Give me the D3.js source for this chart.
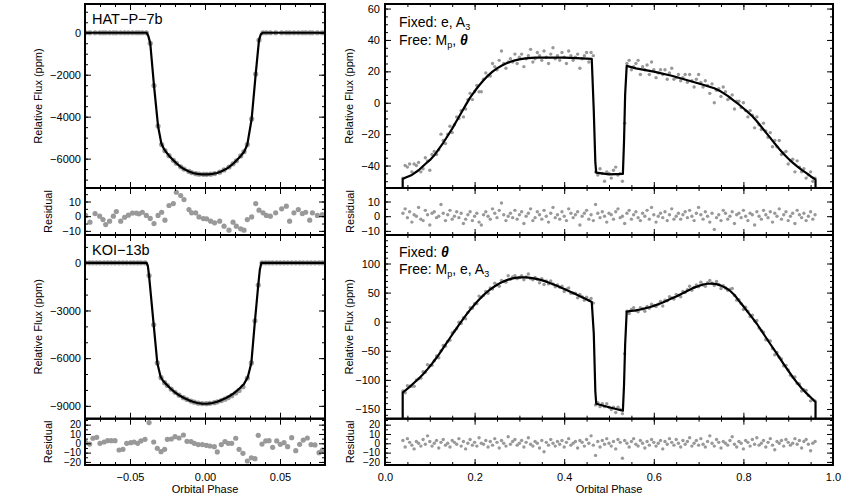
<!DOCTYPE html>
<html><head><meta charset="utf-8">
<script src="https://cdn.jsdelivr.net/npm/d3@7"></script>
<style>body{margin:0;background:#fff}</style>
</head><body><svg id="c" width="850" height="500"></svg>
<script>
// ---------------- DATA ----------------
// HAT-P-7b (left top)
const hatPhase = [-0.0796,-0.0767,-0.0733,-0.0702,-0.0680,-0.0662,-0.0636,-0.0611,-0.0591,-0.0562,
  -0.0536,-0.0511,-0.0484,-0.0458,-0.0440,-0.0418,-0.0391,-0.0365,-0.0340,-0.0313,
  -0.0289,-0.0267,-0.0240,-0.0211,-0.0191,-0.0162,-0.0140,-0.0107,-0.0089,-0.0062,
  -0.0040,-0.0011,0.0011,0.0038,0.0064,0.0098,0.0127,0.0160,0.0187,0.0209,
  0.0238,0.0260,0.0282,0.0311,0.0338,0.0360,0.0387,0.0409,0.0436,0.0471,
  0.0511,0.0542,0.0564,0.0593,0.0622,0.0649,0.0671,0.0698,0.0716,0.0749,0.0782];
const hatFlux = [0,0,0,0,0,0,0,0,0,0,
  0,0,0,0,0,0,0,-500,-2520,-4450,
  -5330,-5620,-5860,-6080,-6220,-6390,-6500,-6610,-6665,-6715,
  -6740,-6750,-6750,-6740,-6712,-6645,-6540,-6400,-6250,-6100,
  -5870,-5670,-5330,-4110,-1970,-350,0,0,0,0,
  0,0,0,0,0,0,0,0,0,0,0];
const hatResid = [0.5,-4.1,1.8,0,-2.3,-5.7,-3.4,0,3.2,-3.4,
  -0.7,0.7,2.1,2.1,1.6,2.7,0.5,-1.5,-5,0.5,
  2.7,-2.7,7.3,8.6,16.3,14.1,11.3,4.5,2.3,2.3,
  -0.5,-1.6,-1.8,-3.4,-4.5,-3.4,-6.8,-9.5,-4.1,-6.8,
  -8.6,-9.5,-2.3,-0.5,8.6,4.1,2.3,0.5,0,2.3,
  5,6.8,-3.4,2.3,4.5,1.8,2.7,-2.7,2.3,0.5,1.1];
const hatModelPhase = [-0.08,-0.0389,-0.0378,-0.0365,-0.0340,-0.0313,-0.0291,-0.0275,-0.0262,-0.0240,
  -0.0211,-0.0191,-0.0162,-0.0140,-0.0107,-0.0080,-0.0050,-0.0020,0,0.0020,
  0.0050,0.0080,0.0107,0.0140,0.0162,0.0191,0.0211,0.0240,0.0262,0.0282,
  0.0311,0.0338,0.0360,0.0372,0.0384,0.08];
const hatModelFlux = [0,0,-150,-500,-2520,-4450,-5280,-5520,-5660,-5860,
  -6080,-6220,-6390,-6500,-6610,-6685,-6730,-6748,-6752,-6748,
  -6730,-6685,-6610,-6500,-6390,-6220,-6080,-5860,-5660,-5330,
  -4110,-1970,-350,-80,0,0];

// KOI-13b (left bottom)
const koiPhase = [-0.0796,-0.0769,-0.0747,-0.0722,-0.0700,-0.0673,-0.0649,-0.0625,-0.0600,-0.0573,
  -0.0547,-0.0522,-0.0495,-0.0473,-0.0449,-0.0427,-0.0400,-0.0373,-0.0342,-0.0318,
  -0.0293,-0.0269,-0.0251,-0.0225,-0.0200,-0.0173,-0.0144,-0.0120,-0.0093,-0.0071,
  -0.0045,-0.0018,0.0009,0.0033,0.0062,0.0082,0.0109,0.0133,0.0155,0.0178,
  0.0205,0.0227,0.0253,0.0282,0.0309,0.0333,0.0355,0.0380,0.0405,0.0427,
  0.0451,0.0478,0.0502,0.0527,0.0551,0.0578,0.0605,0.0631,0.0655,0.0682,
  0.0707,0.0733,0.0760,0.0782];
const koiFlux = [0,0,0,0,0,0,0,0,0,0,
  0,0,0,0,0,0,0,-800,-3900,-6300,
  -7230,-7540,-7720,-7950,-8150,-8330,-8490,-8600,-8700,-8770,
  -8830,-8860,-8865,-8845,-8800,-8750,-8670,-8580,-8480,-8360,
  -8190,-8030,-7800,-7250,-6300,-3650,-1400,0,0,0,
  0,0,0,0,0,0,0,0,0,0,
  0,0,0,0];
const koiResid = [1.1,-0.8,5.4,6.4,0,1.4,2.8,2.8,2.8,-7.2,
  -6.5,0,0.7,1.4,0,2.5,4.3,22.2,1.4,-5.4,
  -9,-6.5,4.3,4.6,7.1,5.7,8.9,2.1,1.8,0,
  -1.4,-1.4,-2.2,-2.9,-3.6,-9.3,-1.4,1.8,0,0,
  5.4,-6.5,-10.8,-19,-15.5,-16.5,8.6,-0.8,2.5,2.8,
  -4.3,2.5,-1.1,0.7,-3.6,6.0,-7.9,-1.1,3.5,5.7,
  -1.4,-1.8,-10.1,-7.2];
const koiModelPhase = [-0.08,-0.0389,-0.0381,-0.0373,-0.0342,-0.0318,-0.0296,-0.0280,-0.0260,-0.0230,
  -0.0200,-0.0170,-0.0140,-0.0110,-0.0080,-0.0050,-0.0020,0,0.0020,0.0050,
  0.0080,0.0110,0.0140,0.0170,0.0200,0.0230,0.0260,0.0285,0.0309,0.0333,
  0.0355,0.0366,0.0376,0.08];
const koiModelFlux = [0,0,-200,-800,-3900,-6300,-7170,-7420,-7620,-7910,
  -8150,-8350,-8510,-8640,-8740,-8820,-8860,-8870,-8860,-8820,
  -8740,-8640,-8510,-8350,-8150,-7910,-7620,-7200,-6300,-3650,
  -1400,-400,0,0];

// Full phase curves (right panels), shared phase bins
const rightPhase = [.040,.045,.050,.055,.060,.065,.070,.075,.080,.085,
  .090,.095,.100,.105,.110,.115,.120,.125,.130,.135,
  .140,.145,.150,.155,.160,.165,.170,.175,.180,.185,
  .190,.195,.200,.205,.210,.215,.220,.225,.230,.235,
  .240,.245,.250,.255,.260,.265,.270,.275,.280,.285,
  .290,.295,.300,.305,.310,.315,.320,.325,.330,.335,
  .340,.345,.350,.355,.360,.365,.370,.375,.380,.385,
  .390,.395,.400,.405,.410,.415,.420,.425,.430,.435,
  .440,.445,.450,.455,.460,.465,.470,.475,.480,.485,
  .490,.495,.500,.505,.510,.515,.520,.525,.530,.535,
  .540,.545,.550,.555,.560,.565,.570,.575,.580,.585,
  .590,.595,.600,.605,.610,.615,.620,.625,.630,.635,
  .640,.645,.650,.655,.660,.665,.670,.675,.680,.685,
  .690,.695,.700,.705,.710,.715,.720,.725,.730,.735,
  .740,.745,.750,.755,.760,.765,.770,.775,.780,.785,
  .790,.795,.800,.805,.810,.815,.820,.825,.830,.835,
  .840,.845,.850,.855,.860,.865,.870,.875,.880,.885,
  .890,.895,.900,.905,.910,.915,.920,.925,.930,.935,
  .940,.945,.950,.955,.960];

// Top right: Fixed e, A3
const topFlux = [-48,-40,-41,-39,-44,-39,-40,-38,-44,-42,
  -35,-37,-43,-33,-31,-33,-30,-20,-24,-26,
  -20,-15,-19,-14,-9,-10,-5,-9,-4,2,
  6,2,7,11,7,7,15,19,17,17,
  25,23,21,27,33,25,22,26,28,26,
  31,25,29,31,23,28,30,34,26,28,
  32,30,27,33,29,25,31,35,28,30,
  27,32,29,25,33,30,27,29,31,22,
  28,30,32,26,32,30,-44,-46,-42,-45,
  -50,-44,-45,-48,-43,-41,-46,-45,-50,-13,
  25,27,21,23,25,27,18,23,21,24,
  18,26,21,16,19,21,18,21,15,19,
  22,15,16,18,14,16,18,13,18,14,
  10,15,18,13,10,14,11,6,12,0,
  8,9,4,10,7,2,3,5,-4,1,
  1,-3,0,-5,-9,-5,-8,-16,-9,-14,
  -17,-13,-18,-22,-19,-28,-24,-28,-24,-33,
  -32,-31,-39,-37,-36,-44,-37,-41,-44,-42,
  -48,-46,-44,-50,-48];
const topResid = [2,5,-1,3,-4,1,0,6,-2,-3,
  4,1,-6,2,3,-1,0,8,2,-3,
  1,4,-2,0,3,-1,2,-5,-2,1,
  3,-3,0,2,-4,-6,1,3,0,-2,
  5,2,-1,4,9,1,-3,0,2,-1,
  4,-2,1,3,-5,0,2,5,-3,-1,
  3,1,-2,4,0,-4,2,6,-1,1,
  -2,3,0,-3,5,2,-1,1,3,-6,
  0,2,4,-2,1,-3,8,2,-1,3,
  0,-4,2,1,-2,3,5,-1,0,-5,
  2,4,-2,1,3,-1,-3,2,0,4,
  -2,6,1,-4,0,2,-1,3,-3,1,
  5,-2,0,2,-2,1,3,-1,4,0,
  -3,2,6,1,-2,3,0,-4,2,-9,
  -1,1,-3,4,2,-2,0,3,-5,1,
  2,-1,4,0,-3,2,1,-6,3,0,
  -2,4,1,-1,3,-4,2,0,5,-2,
  1,3,-3,0,2,-5,4,1,-1,2,
  -3,0,3,-2,1];
const topModelPhase = [0.0395,0.0395,0.045,0.06,0.075,0.09,0.10,0.11,0.12,0.13,
  0.14,0.15,0.16,0.17,0.18,0.19,0.20,0.21,0.22,0.23,
  0.24,0.25,0.26,0.27,0.28,0.29,0.30,0.31,0.32,0.335,
  0.40,0.44,0.4615,0.466,0.4695,0.4715,0.50,0.531,0.5335,0.536,
  0.5395,0.56,0.60,0.64,0.685,0.71,0.735,0.75,0.765,0.78,
  0.79,0.80,0.81,0.82,0.83,0.84,0.85,0.86,0.87,0.88,
  0.89,0.90,0.91,0.92,0.93,0.94,0.95,0.961,0.961];
const topModelFlux = [-62,-48.5,-47.8,-46,-43,-39,-36.6,-33.5,-29.5,-25.5,
  -21,-16.5,-11.5,-6.5,-1.5,3.3,7.3,11,14.3,17.3,
  19.8,21.9,23.6,25,26.1,27,27.6,28.1,28.4,28.7,
  28.7,28.3,27.9,-5,-38,-44.5,-45.6,-45.3,-25,5,
  23.5,21.9,19.8,17.2,13.5,11.5,9.2,7.1,4.4,1.1,
  -1.1,-3.5,-6,-8.6,-11.8,-15.3,-18.9,-22.4,-26,-29.4,
  -32.6,-35.5,-38.1,-40.5,-42.7,-44.7,-46.8,-49,-62];

// Bottom right: Fixed theta
const botFlux = [-119,-122,-110,-111,-111,-111,-100,-98,-97,-86,
  -87,-74,-75,-75,-67,-59,-62,-50,-41,-42,
  -34,-32,-19,-16,-12,-1,-3,7,5,16,
  24,23,31,31,44,42,45,52,49,58,
  56,66,64,61,71,69,68,79,73,77,
  79,74,76,79,72,77,82,74,72,76,
  73,67,74,64,70,65,70,65,60,63,
  59,61,52,56,58,49,49,49,41,47,
  43,37,42,37,40,32,-143,-139,-146,-141,
  -146,-141,-147,-151,-147,-156,-147,-151,-158,-55,
  18,14,21,24,19,17,24,22,18,26,
  23,30,28,26,30,35,27,37,36,43,
  41,39,47,45,43,52,50,55,61,54,
  59,63,60,68,63,61,67,71,66,62,
  69,64,57,62,58,54,56,57,45,37,
  38,31,21,25,18,9,11,1,2,-11,
  -15,-18,-31,-32,-33,-46,-57,-53,-61,-64,
  -76,-75,-83,-92,-95,-95,-106,-107,-119,-117,
  -118,-127,-136,-134,-136];
const botResid = [3,-4,5,1,-2,-6,2,0,-3,4,
  -1,8,2,-3,0,3,-5,1,4,-2,
  0,-4,3,1,-1,5,-3,2,-6,0,
  4,-2,1,-3,6,0,-1,3,-4,2,
  -2,5,1,-5,3,0,-3,7,-1,2,
  4,-2,0,3,-4,1,6,-1,-3,2,
  0,-5,3,-9,1,-2,4,0,-3,2,
  -1,3,-4,1,5,-2,0,2,-5,3,
  1,-3,4,0,8,-2,-13,2,-4,3,
  -1,5,0,-3,2,-6,4,1,-16,3,
  0,-4,2,5,-1,-3,3,0,-5,2,
  -2,4,1,-3,0,3,-6,2,-1,5,
  1,-2,4,0,-4,3,-1,2,6,-3,
  0,3,-2,5,-1,-4,2,8,0,-3,
  4,1,-5,2,0,-2,3,7,-1,-4,
  2,0,-6,3,1,-3,4,-1,6,-2,
  0,3,-4,1,5,-2,-7,2,0,3,
  -3,4,1,-2,0,5,-1,3,-5,2,
  4,-1,-8,0,2];
const botModelPhase = [0.0395,0.0395,0.045,0.055,0.065,0.075,0.085,0.095,0.105,0.115,
  0.125,0.135,0.145,0.155,0.165,0.175,0.185,0.195,0.205,0.215,
  0.225,0.235,0.245,0.255,0.265,0.275,0.285,0.295,0.305,0.315,
  0.325,0.335,0.345,0.355,0.365,0.375,0.385,0.395,0.405,0.415,
  0.425,0.435,0.445,0.455,0.4615,0.466,0.4695,0.4715,0.50,0.531,
  0.5335,0.536,0.5395,0.55,0.56,0.57,0.58,0.59,0.60,0.61,
  0.62,0.63,0.64,0.65,0.66,0.67,0.68,0.69,0.70,0.71,
  0.72,0.73,0.74,0.75,0.76,0.77,0.78,0.79,0.80,0.81,
  0.82,0.83,0.84,0.85,0.86,0.87,0.88,0.89,0.90,0.91,
  0.92,0.93,0.94,0.95,0.961,0.961];
const botModelFlux = [-180,-122,-118.3,-112,-105,-98,-90.3,-81.5,-72.2,-62,
  -51,-39.5,-28,-16.5,-5.5,5.3,15.5,25,33.8,42,
  49.3,55.5,60.9,65.5,69.3,72.3,74.5,75.8,76.3,76.1,
  75.3,74,72.3,70.1,67.4,64.5,61.4,58.1,54.6,51,
  47.4,43.8,40.2,36.6,34,-20,-120,-141,-147,-153,
  -110,-40,17.3,18.5,19.6,21,22.8,24.9,27.2,30,
  33.1,36.5,40.1,43.2,47,50.9,55,58.6,61.5,63.9,
  65.2,65.5,64.5,62,58.3,53.3,46,36,26.5,16.5,
  6.5,-3.5,-15.1,-26.7,-38.3,-49.7,-61.2,-72.8,-84,-95,
  -105,-114.3,-122.3,-129.8,-138,-180];

// Tick values
const hatTicks = [0,-2000,-4000,-6000];
const koiTicks = [0,-3000,-6000,-9000];
const topTicks = [60,40,20,0,-20,-40];
const botTicks = [100,50,0,-50,-100,-150];
const res1Ticks = [10,0,-10];
const res2Ticks = [20,10,0,-10,-20];
const leftXTicks = [-0.05,0,0.05];
const rightXTicks = [0,0.2,0.4,0.6,0.8,1.0];

// ---------------- DRAWING ----------------
const FONT = "'Liberation Sans', Arial, Helvetica, sans-serif";
const DOT = "#999999";
const svg = d3.select("#c");
svg.append("rect").attr("width",850).attr("height",500).attr("fill","#fff");

const LX = [85,325], RX = [385,833];
const R_TOPMAIN = [4,188], R_TOPRES = [188,235], R_BOTMAIN = [235,418.7], R_BOTRES = [418.7,465];

function minorTicks(dom, step){
  const lo = Math.min(dom[0],dom[1]), hi = Math.max(dom[0],dom[1]);
  const out = [];
  for (let k = Math.ceil(lo/step - 1e-9); k*step <= hi + 1e-9; k++) out.push(+(k*step).toFixed(6));
  return out;
}

let clipN = 0;
function panel(cfg){
  const [x0,x1] = cfg.xr, [y0,y1] = cfg.yr;
  const x = d3.scaleLinear().domain(cfg.xDomain).range([x0,x1]);
  const y = d3.scaleLinear().domain(cfg.yDomain).range([y1,y0]);
  const id = "clip"+(clipN++);
  svg.append("clipPath").attr("id",id).append("rect")
    .attr("x",x0).attr("y",y0).attr("width",x1-x0).attr("height",y1-y0);
  const g = svg.append("g");
  const plot = g.append("g").attr("clip-path",`url(#${id})`);
  plot.selectAll("circle").data(d3.zip(cfg.px, cfg.py)).join("circle")
    .attr("cx",d=>x(d[0])).attr("cy",d=>y(d[1])).attr("r",cfg.r).attr("fill",DOT);
  if (cfg.lx){
    plot.append("path").datum(d3.zip(cfg.lx, cfg.ly))
      .attr("fill","none").attr("stroke","#000").attr("stroke-width",2.2)
      .attr("stroke-linejoin","round")
      .attr("d", d3.line().x(d=>x(d[0])).y(d=>y(d[1])));
  }
  const none = () => "";
  const put = (axis, tx, ty, fs) => {
    const a = g.append("g").attr("transform",`translate(${tx},${ty})`).call(axis);
    a.select(".domain").remove();
    a.attr("font-family",FONT).attr("font-size",fs || 11);
    a.selectAll("line").attr("stroke","#000").attr("stroke-width",1);
    a.selectAll("text").attr("fill","#000");
    return a;
  };
  const yMin = minorTicks(cfg.yDomain, cfg.yMinor);
  const xMin = minorTicks(cfg.xDomain, cfg.xMinor);
  // left
  put(d3.axisLeft(y).tickValues(cfg.yTicks).tickSizeInner(-6).tickSizeOuter(0).tickPadding(cfg.yPad).tickFormat(d3.format("d")), x0, 0, cfg.yFont);
  put(d3.axisLeft(y).tickValues(yMin).tickSizeInner(-3).tickSizeOuter(0).tickFormat(none), x0, 0);
  // right
  put(d3.axisRight(y).tickValues(cfg.yTicks).tickSizeInner(-6).tickSizeOuter(0).tickFormat(none), x1, 0);
  put(d3.axisRight(y).tickValues(yMin).tickSizeInner(-3).tickSizeOuter(0).tickFormat(none), x1, 0);
  // top
  put(d3.axisTop(x).tickValues(cfg.xTicks).tickSizeInner(-6).tickSizeOuter(0).tickFormat(none), 0, y0);
  put(d3.axisTop(x).tickValues(xMin).tickSizeInner(-3).tickSizeOuter(0).tickFormat(none), 0, y0);
  // bottom
  put(d3.axisBottom(x).tickValues(cfg.xTicks).tickSizeInner(-6).tickSizeOuter(0).tickPadding(8)
      .tickFormat(cfg.xLabels ? d3.format(cfg.xFmt) : none), 0, y1);
  put(d3.axisBottom(x).tickValues(xMin).tickSizeInner(-3).tickSizeOuter(0).tickFormat(none), 0, y1);
  // frame
  g.append("rect").attr("x",x0).attr("y",y0).attr("width",x1-x0).attr("height",y1-y0)
    .attr("fill","none").attr("stroke","#000").attr("stroke-width",2);
  return {x,y};
}

const LDOM = [-0.08,0.08], RDOM = [0,1];
// Left column
panel({xr:LX, yr:R_TOPMAIN, xDomain:LDOM, yDomain:[-7400,1370], px:hatPhase, py:hatFlux, r:2.6,
  lx:hatModelPhase, ly:hatModelFlux, yTicks:hatTicks, yMinor:500, xTicks:leftXTicks, xMinor:0.01, yPad:4});
panel({xr:LX, yr:R_TOPRES, xDomain:LDOM, yDomain:[-12.8,19.2], px:hatPhase, py:hatResid, r:2.6,
  yTicks:res1Ticks, yMinor:5, xTicks:leftXTicks, xMinor:0.01, yPad:4});
panel({xr:LX, yr:R_BOTMAIN, xDomain:LDOM, yDomain:[-9810,1750], px:koiPhase, py:koiFlux, r:2.6,
  lx:koiModelPhase, ly:koiModelFlux, yTicks:koiTicks, yMinor:1000, xTicks:leftXTicks, xMinor:0.01, yPad:4});
panel({xr:LX, yr:R_BOTRES, xDomain:LDOM, yDomain:[-23.3,26.4], px:koiPhase, py:koiResid, r:2.6,
  yTicks:res2Ticks, yMinor:5, xTicks:leftXTicks, xMinor:0.01, yPad:4, yFont:10, xLabels:true, xFmt:".2f"});
// Right column
panel({xr:RX, yr:R_TOPMAIN, xDomain:RDOM, yDomain:[-54.3,62.9], px:rightPhase, py:topFlux, r:1.7,
  lx:topModelPhase, ly:topModelFlux, yTicks:topTicks, yMinor:5, xTicks:rightXTicks, xMinor:0.05, yPad:5});
panel({xr:RX, yr:R_TOPRES, xDomain:RDOM, yDomain:[-12.8,19.2], px:rightPhase, py:topResid, r:1.7,
  yTicks:res1Ticks, yMinor:5, xTicks:rightXTicks, xMinor:0.05, yPad:5});
panel({xr:RX, yr:R_BOTMAIN, xDomain:RDOM, yDomain:[-166.7,149], px:rightPhase, py:botFlux, r:1.7,
  lx:botModelPhase, ly:botModelFlux, yTicks:botTicks, yMinor:10, xTicks:rightXTicks, xMinor:0.05, yPad:5});
panel({xr:RX, yr:R_BOTRES, xDomain:RDOM, yDomain:[-23.3,26.4], px:rightPhase, py:botResid, r:1.7,
  yTicks:res2Ticks, yMinor:5, xTicks:rightXTicks, xMinor:0.05, yPad:5, yFont:10, xLabels:true, xFmt:".1f"});

// Axis titles
function vtitle(xc, yc, s){
  svg.append("text").attr("transform",`translate(${xc},${yc}) rotate(-90)`)
    .attr("text-anchor","middle").attr("dy","0.35em")
    .attr("font-family",FONT).attr("font-size",11).text(s);
}
vtitle(38, (R_TOPMAIN[0]+R_TOPMAIN[1])/2, "Relative Flux (ppm)");
vtitle(48, (R_TOPRES[0]+R_TOPRES[1])/2, "Residual");
vtitle(38, (R_BOTMAIN[0]+R_BOTMAIN[1])/2, "Relative Flux (ppm)");
vtitle(48, (R_BOTRES[0]+R_BOTRES[1])/2, "Residual");
vtitle(349, (R_TOPMAIN[0]+R_TOPMAIN[1])/2, "Relative Flux (ppm)");
vtitle(350, (R_TOPRES[0]+R_TOPRES[1])/2, "Residual");
vtitle(349, (R_BOTMAIN[0]+R_BOTMAIN[1])/2, "Relative Flux (ppm)");
vtitle(350, (R_BOTRES[0]+R_BOTRES[1])/2, "Residual");

svg.append("text").attr("x",(LX[0]+LX[1])/2).attr("y",492.5).attr("text-anchor","middle")
  .attr("font-family",FONT).attr("font-size",11).text("Orbital Phase");
svg.append("text").attr("x",(RX[0]+RX[1])/2).attr("y",492.5).attr("text-anchor","middle")
  .attr("font-family",FONT).attr("font-size",11).text("Orbital Phase");

// Panel labels
svg.append("text").attr("x",92).attr("y",24).attr("font-family",FONT).attr("font-size",14.5).text("HAT\u2212P\u22127b");
svg.append("text").attr("x",92).attr("y",255).attr("font-family",FONT).attr("font-size",14.5).text("KOI\u221213b");

function rich(xp, yp, parts){
  const t = svg.append("text").attr("x",xp).attr("y",yp).attr("font-family",FONT).attr("font-size",14);
  parts.forEach(p => {
    const sp = t.append("tspan").text(p.t);
    if (p.dy) sp.attr("dy",p.dy);
    if (p.sub) sp.attr("font-size",9);
    if (p.th) sp.attr("font-style","italic").attr("font-weight","bold");
  });
}
rich(399, 27, [{t:"Fixed: e, A"},{t:"3",sub:1,dy:3}]);
rich(399, 44.5, [{t:"Free: M"},{t:"p",sub:1,dy:3},{t:", ",dy:-3},{t:"\u03B8",th:1}]);
rich(399, 256.7, [{t:"Fixed: "},{t:"\u03B8",th:1}]);
rich(399, 273.5, [{t:"Free: M"},{t:"p",sub:1,dy:3},{t:", e, A",dy:-3},{t:"3",sub:1,dy:3}]);
</script></body></html>
